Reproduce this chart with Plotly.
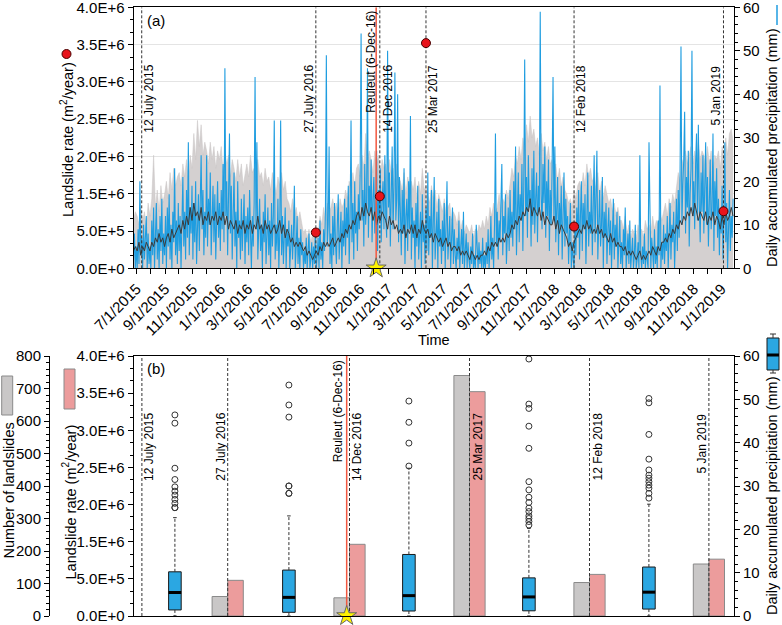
import datetime as dt
import plotly.graph_objects as go

W, H = 782, 625
FONT = "Arial, 'Liberation Sans', sans-serif"

# ---------------- data ----------------
start_date = dt.date(2015, 6, 24)
precip_step_days = 2
band_step_days = 4

# daily accumulated precipitation (mm), sampled every 2 days
prec_2015 = [2, 8, 0, 5,
             0, 9, 1, 20, 3, 7, 0, 10, 2, 6, 12, 0, 8, 1, 5,
             0, 11, 3, 14, 0, 7, 15, 2, 9, 0, 12, 4, 16, 1, 8, 3,
             12, 0, 14, 5, 17, 2, 10, 0, 13, 6, 23, 3, 11, 1, 15,
             4, 12, 0, 16, 21, 5, 13, 2, 18, 7, 29, 3, 14, 8, 19,
             2, 15, 6, 20, 1, 12, 17, 4, 14, 26, 9, 18, 3, 13, 7,
             26, 5, 16, 10, 22, 3, 14, 19, 6, 17, 2, 12, 20, 7, 15]
prec_2016 = [4, 18, 9, 24, 6, 46, 12, 20, 3, 15, 31, 8, 19, 2, 14, 22,
             5, 13, 0, 20, 7, 11, 2, 16, 4, 9, 17, 1, 12, 6,
             14, 3, 18, 8, 0, 12, 5, 15, 44, 9, 29, 2, 11, 16, 4, 10,
             0, 13, 6, 17, 1, 9, 14, 3, 11, 0, 15, 5, 12, 34, 2,
             10, 4, 16, 0, 8, 34, 3, 12, 1, 7, 14, 0, 9, 5, 11,
             0, 6, 10, 2, 8, 19, 0, 5, 12, 1, 7, 0, 9, 3, 6,
             0, 4, 1, 7, 0, 3, 8, 0, 2, 6, 0, 5, 1, 9, 0,
             3, 7, 0, 11, 2, 6, 0, 9, 4, 13, 49, 5, 10, 28, 1, 8,
             0, 12, 3, 15, 6, 1, 10, 17, 2, 8, 13, 0, 11, 5, 16,
             3, 14, 7, 19, 1, 12, 34, 6, 15, 2, 20, 8, 13, 4, 17,
             9, 22, 54, 11, 18, 5, 24, 10, 15, 46, 7, 19, 13, 25, 6,
             16, 21, 8, 14, 27, 4, 18, 11, 23, 6, 15, 20, 9, 26, 12]
prec_2017 = [7, 50, 14, 22, 5, 17, 28, 9, 19, 45, 11, 16, 40, 6, 21, 13,
             3, 18, 8, 23, 1, 12, 16, 4, 20, 9, 35, 2, 14, 7,
             11, 0, 15, 5, 19, 2, 9, 13, 0, 17, 6, 10, 1, 14, 4, 22,
             3, 12, 7, 18, 0, 10, 21, 2, 8, 13, 0, 16, 5, 9, 1,
             11, 4, 15, 0, 8, 20, 2, 7, 12, 0, 6, 14, 1, 9, 3,
             0, 7, 2, 11, 0, 5, 9, 1, 13, 0, 4, 8, 0, 6, 2,
             0, 5, 1, 8, 0, 3, 0, 10, 2, 0, 6, 1, 4, 0, 7, 0,
             3, 0, 6, 1, 9, 0, 4, 12, 2, 7, 0, 10, 31, 5, 13,
             2, 11, 6, 15, 24, 3, 12, 8, 17, 1, 10, 14, 4, 18, 7,
             13, 5, 20, 9, 28, 3, 15, 22, 6, 17, 11, 24, 4, 19, 48,
             12, 21, 7, 26, 14, 18, 5, 23, 10, 27, 8, 16, 22, 6, 19,
             13, 59, 17, 9, 24, 15, 28, 7, 20, 12, 25, 4, 18, 10, 23, 44]
prec_2018 = [11, 28, 6, 17, 21, 3, 15, 9, 19, 2, 13, 22, 5, 16, 8,
             12, 1, 9, 15, 0, 6, 2, 0, 10, 3, 14, 7, 18, 2,
             12, 20, 4, 15, 9, 17, 1, 11, 22, 5, 13, 8, 19, 3, 14, 26,
             6, 16, 27, 2, 12, 18, 5, 10, 21, 0, 13, 7, 15, 1, 9,
             14, 3, 11, 0, 8, 16, 2, 10, 5, 13, 0, 7, 12, 1, 6,
             0, 9, 3, 14, 0, 5, 8, 1, 11, 0, 4, 7, 0, 3, 10,
             0, 2, 6, 0, 26, 3, 0, 5, 1, 8, 0, 4, 2, 0, 29, 5,
             0, 7, 2, 0, 9, 1, 5, 0, 11, 3, 42, 0, 6, 2, 10,
             1, 8, 4, 12, 0, 7, 15, 2, 10, 6, 13, 0, 9, 16, 4,
             18, 7, 22, 51, 10, 19, 25, 36, 8, 21, 14, 27, 5, 17, 23, 50,
             12, 20, 9, 24, 31, 11, 33, 15, 6, 22, 13, 26, 8, 19, 29,
             10, 21, 5, 17, 25, 9, 14, 31, 4, 20, 12, 23, 7, 16, 3]
prec_2019 = [14, 8, 19, 2, 11, 29, 6, 15, 0, 10, 18, 4, 12, 7, 16]

# grey band upper limit (mm), every 4 days
band_2015 = [11, 13,
             12, 10, 14, 11, 13, 9, 15, 12,
             16, 26, 14, 18, 13, 19, 15, 17,
             20, 16, 22, 18, 23, 19, 21,
             22, 19, 24, 21, 25, 20, 26, 23,
             31, 25, 34, 28, 33, 26, 29,
             27, 24, 29, 25, 28, 23, 27]
band_2016 = [25, 28, 22, 27, 24, 26, 21, 25,
             23, 20, 25, 21, 24, 19, 22,
             24, 21, 26, 22, 23, 20, 25, 21,
             22, 19, 23, 20, 21, 18, 22,
             20, 17, 21, 19, 22, 18, 20, 16,
             15, 13, 16, 12, 14, 11, 13,
             10, 8, 9, 7, 9, 6, 8, 7,
             9, 8, 12, 10, 14, 11, 15, 13,
             14, 16, 13, 15, 12, 16, 14,
             15, 18, 16, 20, 17, 22, 19, 23,
             24, 21, 26, 23, 31, 25, 27,
             25, 22, 27, 24, 26, 21, 25, 23]
band_2017 = [24, 20, 25, 22, 23, 19, 24, 21,
             20, 18, 22, 17, 21, 19, 20,
             18, 21, 16, 20, 17, 23, 18, 19,
             17, 15, 19, 16, 18, 14, 17,
             15, 13, 16, 12, 14, 15, 11, 13,
             12, 10, 13, 9, 11, 8, 10,
             9, 8, 10, 7, 9, 8, 10, 9,
             11, 9, 12, 10, 14, 12, 15, 13,
             14, 17, 13, 16, 15, 18, 16,
             19, 23, 21, 26, 24, 28, 25, 30,
             27, 33, 29, 35, 30, 32, 28,
             30, 26, 31, 27, 29, 25, 28, 24]
band_2018 = [25, 22, 24, 20, 23, 19, 21, 18,
             17, 15, 16, 14, 18, 16, 19,
             20, 18, 22, 19, 24, 21, 23, 20,
             21, 18, 22, 17, 20, 16, 19,
             17, 15, 16, 13, 15, 12, 14, 11,
             11, 9, 12, 8, 10, 7, 9,
             8, 7, 10, 8, 9, 7, 11, 9,
             10, 8, 12, 9, 11, 10, 13, 11,
             13, 15, 12, 16, 14, 17, 15,
             19, 22, 20, 25, 23, 27, 24, 26,
             28, 24, 27, 23, 29, 25, 27,
             26, 23, 28, 24, 27, 22, 26, 25]
band_2019 = [27, 23, 28, 25, 30, 26, 31, 32, 29]

# mean precipitation line (mm), every 4 days
mean_2015 = [4, 5,
             4, 6, 3, 5, 4, 6, 5, 4,
             6, 5, 7, 6, 8, 6, 7, 5,
             7, 8, 6, 9, 7, 8, 9,
             10, 8, 11, 9, 12, 10, 14, 11,
             15, 12, 13, 11, 14, 10, 12,
             11, 13, 10, 12, 11, 13, 10]
mean_2016 = [12, 11, 13, 10, 12, 9, 11, 10,
             9, 11, 8, 10, 9, 11, 8,
             10, 9, 11, 8, 10, 9, 12, 9,
             10, 8, 11, 9, 10, 8, 9,
             10, 8, 9, 11, 8, 10, 7, 9,
             8, 6, 7, 5, 6, 5, 6,
             5, 4, 5, 3, 4, 3, 2, 3,
             4, 3, 5, 4, 6, 5, 6, 5,
             6, 7, 5, 6, 7, 6, 8,
             7, 9, 8, 10, 9, 11, 10, 12,
             13, 11, 14, 12, 15, 13, 12,
             14, 11, 13, 10, 12, 11, 13, 12]
mean_2017 = [11, 9, 12, 10, 11, 9, 10, 8,
             9, 8, 10, 7, 9, 8, 10,
             8, 10, 7, 9, 8, 11, 9, 8,
             9, 7, 8, 6, 8, 7, 6,
             7, 5, 6, 7, 5, 6, 4, 5,
             5, 4, 5, 3, 4, 3, 4,
             3, 2, 4, 3, 2, 3, 2, 3,
             3, 4, 3, 5, 4, 6, 5, 6,
             5, 7, 6, 7, 6, 8, 7,
             8, 10, 9, 11, 10, 12, 11, 13,
             12, 14, 13, 16, 12, 14, 13,
             12, 14, 11, 13, 10, 12, 11, 10]
mean_2018 = [10, 12, 9, 11, 8, 10, 9, 8,
             7, 5, 6, 4, 6, 7, 8,
             9, 8, 10, 9, 11, 9, 10, 8,
             9, 8, 10, 8, 9, 7, 8,
             7, 6, 8, 6, 7, 5, 6, 5,
             5, 4, 5, 3, 4, 3, 4,
             3, 2, 3, 4, 2, 3, 2, 3,
             4, 3, 5, 4, 3, 5, 4, 6,
             6, 7, 6, 8, 7, 9, 8,
             10, 9, 11, 10, 12, 11, 13, 12,
             14, 12, 15, 13, 11, 13, 12,
             11, 13, 10, 12, 11, 13, 10, 12]
mean_2019 = [11, 9, 12, 10, 13, 11, 12, 14, 12]

precip = prec_2015 + prec_2016 + prec_2017 + prec_2018 + prec_2019
band_upper = band_2015 + band_2016 + band_2017 + band_2018 + band_2019
band_mean = mean_2015 + mean_2016 + mean_2017 + mean_2018 + mean_2019
precip_dates = [start_date + dt.timedelta(days=precip_step_days * i) for i in range(len(precip))]
band_dates = [start_date + dt.timedelta(days=band_step_days * i) for i in range(len(band_upper))]

# events
event_dates = ["2015-07-12", "2016-07-27", "2016-12-14", "2017-03-25", "2018-02-12", "2019-01-05"]
event_labels = ["12 July 2015", "27 July 2016", "14 Dec 2016", "25 Mar 2017", "12 Feb 2018", "5 Jan 2019"]
reuleut_date = "2016-12-06"
reuleut_label = "Reuleut (6-Dec-16)"

# landslide rate (in the chart's left-axis units) and number of landslides per event
rate_dates = event_dates[1:]
landslide_rate = [0.48e6, 0.965e6, 3.02e6, 0.56e6, 0.765e6]
landslide_count = [60, 56, 740, 103, 160]

rate_tickvals = [0, 0.5e6, 1.0e6, 1.5e6, 2.0e6, 2.5e6, 3.0e6, 3.5e6]
rate_ticktext = ["0.0E+0", "5.0E+5", "1.5E+6", "2.0E+6", "2.5E+6", "3.0E+6", "3.5E+6", "4.0E+6"]
date_ticktext = ["7/1/2015", "9/1/2015", "11/1/2015", "1/1/2016", "3/1/2016", "5/1/2016",
                 "7/1/2016", "9/1/2016", "11/1/2016", "1/1/2017", "3/1/2017", "5/1/2017",
                 "7/1/2017", "9/1/2017", "11/1/2017", "1/1/2018", "3/1/2018", "5/1/2018",
                 "7/1/2018", "9/1/2018", "11/1/2018", "1/1/2019"]
date_tickvals = [dt.datetime.strptime(t, "%m/%d/%Y").date() for t in date_ticktext]

# box plots of precipitation between events (mm)
box_q1 = [1.4, 0.85, 1.15, 1.2, 1.6]
box_med = [5.4, 4.3, 4.7, 4.4, 5.5]
box_q3 = [10.2, 10.6, 14.2, 8.8, 11.3]
box_hi = [22.7, 23.1, 34.1, 20.2, 25.8]
box_lo = [0, 0, 0, 0, 0]
box_outliers = [
    [25.0, 25.0, 26.0, 26.9, 27.9, 28.8, 29.8, 31.5, 34.1, 44.5, 46.4],
    [28.3, 28.3, 30.0, 30.0, 45.9, 48.7, 53.3],
    [34.6, 39.9, 44.7, 49.6],
    [21.0, 21.8, 22.5, 23.1, 24.1, 24.9, 26.2, 27.4, 29.1, 31.0, 38.7, 43.8, 47.9, 48.9, 59.3],
    [27.2, 28.3, 29.5, 30.2, 31.0, 31.8, 32.5, 33.7, 36.2, 41.9, 49.2, 50.2],
]

# ---------------- layout geometry (pixels) ----------------
X0, X1 = 133.5, 734.0
A_TOP, A_BOT = 7.3, 268.3
B_TOP, B_BOT = 356.0, 616.0
SLOT = 60.0  # pixels per unit on panel (b) x axis
b_event_x = [0.14, 1.57, 3.6, 5.6, 7.6, 9.59]
b_reuleut_x = 3.553
box_x = [0.69, 2.59, 4.59, 6.59, 8.59]
BAR_W = 0.26
BOX_W = 0.21


def px(x):
    return x / W


def py(y):
    return 1 - y / H


BLUE = "#1f9de0"
BOXBLUE = "#2ba7e2"
GREY_BAND = "#d4d0d0"
RED = "#e8141c"
REDLINE = "#f2573f"
DASH = "3px,2px"

fig = go.Figure()

# ---- panel (a) ----
fig.add_trace(go.Scatter(x=band_dates, y=band_upper, mode="lines", fill="tozeroy",
                         fillcolor=GREY_BAND, line=dict(width=0.5, color="#c8c4c4"),
                         xaxis="x", yaxis="y", showlegend=False, hoverinfo="skip"))
fig.add_trace(go.Scatter(x=precip_dates, y=precip, mode="lines",
                         line=dict(width=1.1, color=BLUE),
                         xaxis="x", yaxis="y", showlegend=False))
fig.add_trace(go.Scatter(x=band_dates, y=band_mean, mode="lines",
                         line=dict(width=1, color="#3a3a3a"),
                         xaxis="x", yaxis="y", showlegend=False))

lx, ly = [], []
for d in event_dates:
    lx += [d, d, None]
    ly += [0, 3.5e6, None]
fig.add_trace(go.Scatter(x=lx, y=ly, mode="lines", line=dict(width=1, color="#333", dash=DASH),
                         xaxis="x", yaxis="y2", showlegend=False, hoverinfo="skip"))
fig.add_trace(go.Scatter(x=[reuleut_date, reuleut_date], y=[0, 3.5e6], mode="lines",
                         line=dict(width=1.5, color=REDLINE), xaxis="x", yaxis="y2",
                         showlegend=False, hoverinfo="skip"))
fig.add_trace(go.Scatter(x=rate_dates, y=landslide_rate, mode="markers",
                         marker=dict(symbol="circle", size=9, color=RED,
                                     line=dict(width=1, color="#4a0000")),
                         xaxis="x", yaxis="y2", showlegend=False))
fig.add_trace(go.Scatter(x=[reuleut_date], y=[0], mode="markers", cliponaxis=False,
                         marker=dict(symbol="star", size=15, color="#fff200",
                                     line=dict(width=1, color="#666")),
                         xaxis="x", yaxis="y2", showlegend=False))

# ---- panel (b) ----
fig.add_trace(go.Bar(x=box_x, y=[h - l for h, l in zip(box_q3, box_q1)], base=box_q1,
                     width=BOX_W, marker=dict(color=BOXBLUE, line=dict(color="#1a1a1a", width=1)),
                     xaxis="x2", yaxis="y3", showlegend=False))
mx, my, wx, wy, cx, cy = [], [], [], [], [], []
for c, m, q1, q3, hi, lo in zip(box_x, box_med, box_q1, box_q3, box_hi, box_lo):
    mx += [c - BOX_W / 2, c + BOX_W / 2, None]
    my += [m, m, None]
    wx += [c, c, None, c, c, None]
    wy += [q3, hi, None, q1, lo, None]
    cx += [c - 0.03, c + 0.03, None, c - 0.03, c + 0.03, None]
    cy += [hi, hi, None, lo, lo, None]
fig.add_trace(go.Scatter(x=wx, y=wy, mode="lines", line=dict(width=1, color="#333", dash=DASH),
                         xaxis="x2", yaxis="y3", showlegend=False, hoverinfo="skip"))
fig.add_trace(go.Scatter(x=cx, y=cy, mode="lines", line=dict(width=1, color="#333"),
                         xaxis="x2", yaxis="y3", showlegend=False, hoverinfo="skip", cliponaxis=False))
fig.add_trace(go.Scatter(x=mx, y=my, mode="lines", line=dict(width=3, color="#000"),
                         xaxis="x2", yaxis="y3", showlegend=False, hoverinfo="skip"))
ox, oy = [], []
for c, outs in zip(box_x, box_outliers):
    ox += [c] * len(outs)
    oy += outs
fig.add_trace(go.Scatter(x=ox, y=oy, mode="markers", cliponaxis=False,
                         marker=dict(symbol="circle-open", size=6, color="#333", line=dict(width=1)),
                         xaxis="x2", yaxis="y3", showlegend=False))

fig.add_trace(go.Bar(x=[b - BAR_W / 2 for b in b_event_x[1:]], y=landslide_count, width=BAR_W,
                     marker=dict(color="#c9c7c7", line=dict(color="#8a8a8a", width=1)),
                     xaxis="x2", yaxis="y4", showlegend=False))
fig.add_trace(go.Bar(x=[b + BAR_W / 2 for b in b_event_x[1:]], y=landslide_rate, width=BAR_W,
                     marker=dict(color="#ec9c9c", line=dict(color="#8a8a8a", width=1)),
                     xaxis="x2", yaxis="y5", showlegend=False))
lx, ly = [], []
for b in b_event_x:
    lx += [b, b, None]
    ly += [0, 3.5e6, None]
fig.add_trace(go.Scatter(x=lx, y=ly, mode="lines", line=dict(width=1, color="#333", dash=DASH),
                         xaxis="x2", yaxis="y5", showlegend=False, hoverinfo="skip"))
fig.add_trace(go.Scatter(x=[b_reuleut_x, b_reuleut_x], y=[0, 3.5e6], mode="lines",
                         line=dict(width=1.5, color=REDLINE), xaxis="x2", yaxis="y5",
                         showlegend=False, hoverinfo="skip"))
fig.add_trace(go.Scatter(x=[b_reuleut_x], y=[0], mode="markers", cliponaxis=False,
                         marker=dict(symbol="star", size=15, color="#fff200",
                                     line=dict(width=1, color="#666")),
                         xaxis="x2", yaxis="y5", showlegend=False))

# ---- axes ----
tickfont = dict(family=FONT, size=15, color="black")
common = dict(showline=True, linecolor="black", linewidth=1, ticks="outside", ticklen=5,
              tickwidth=1, tickcolor="black", tickfont=tickfont, zeroline=False,
              automargin=False, ticklabeloverflow="allow")
xdom = [px(X0), px(X1)]
ydom_a = [py(A_BOT), py(A_TOP)]
ydom_b = [py(B_BOT), py(B_TOP)]

layout_axes = dict(
    xaxis=dict(domain=xdom, anchor="y", type="date", range=["2015-06-24", "2019-01-28"],
               tickvals=date_tickvals, ticktext=date_ticktext, tickangle=-45, mirror=True,
               showgrid=False,
               minor=dict(dtick="M1", tick0="2015-07-01", ticks="outside", ticklen=5,
                          tickcolor="black", showgrid=False), **common),
    yaxis=dict(domain=ydom_a, anchor="x", side="right", range=[0, 60], dtick=10,
               showgrid=False,
               minor=dict(dtick=2, ticks="outside", ticklen=3, tickcolor="black", showgrid=False),
               **common),
    yaxis2=dict(overlaying="y", anchor="x", side="left", range=[0, 3.5e6],
                tickvals=rate_tickvals, ticktext=rate_ticktext, showgrid=True,
                gridcolor="#e4e4e4", gridwidth=1,
                minor=dict(dtick=0.5e6 / 3, tick0=0, ticks="outside", ticklen=3,
                           tickcolor="black", showgrid=False), **common),
    xaxis2=dict(domain=xdom, anchor="y3", range=[0, (X1 - X0) / SLOT], showline=True,
                linecolor="black", linewidth=1, mirror=True, ticks="", showticklabels=False,
                showgrid=False, zeroline=False, automargin=False),
    yaxis3=dict(domain=ydom_b, anchor="x2", side="right", range=[0, 60], dtick=10,
                showgrid=False,
                minor=dict(dtick=2, ticks="outside", ticklen=3, tickcolor="black", showgrid=False),
                **common),
    yaxis4=dict(overlaying="y3", anchor="free", position=px(49), side="left", range=[0, 800],
                dtick=100, showgrid=False,
                minor=dict(dtick=20, ticks="outside", ticklen=3, tickcolor="black", showgrid=False),
                **common),
    yaxis5=dict(overlaying="y3", anchor="x2", side="left", range=[0, 3.5e6],
                tickvals=rate_tickvals, ticktext=rate_ticktext, showgrid=False,
                minor=dict(dtick=0.5e6 / 3, tick0=0, ticks="outside", ticklen=3,
                           tickcolor="black", showgrid=False), **common),
)

# ---- annotations ----
ann = []


def txt(x, y, text, size=14.5, angle=0, xref="paper", xshift=0):
    ann.append(dict(x=x, y=y, xref=xref, yref="paper", text=text, showarrow=False,
                    textangle=angle, xanchor="center", yanchor="middle", xshift=xshift,
                    font=dict(family=FONT, size=size, color="black")))


title_rate = "Landslide rate (m<sup>2</sup>/year)"
title_prec = "Daily accumulated precipitation (mm)"
txt(px(67), py(140), title_rate, angle=-90)
txt(px(772), py(148), title_prec, angle=-90)
txt(px(69.5), py(502), title_rate, angle=-90)
txt(px(772), py(496), title_prec, angle=-90)
txt(px(8.5), py(491), "Number of landslides", angle=-90)
txt(px(434), py(340), "Time", size=14.5)
txt(px(155.5), py(21), "(a)", size=15)
txt(px(155.5), py(368.5), "(b)", size=15)

# event labels, panel (a)
a_shift = [7, -7, 8, 7, 7, -7]
a_yc = [99, 99, 99, 99, 99, 95]
for d, lab, s, yc in zip(event_dates, event_labels, a_shift, a_yc):
    txt(d, py(yc), lab, size=12, angle=-90, xref="x", xshift=s)
txt(reuleut_date, py(61.5), reuleut_label, size=12, angle=-90, xref="x", xshift=-6)
# event labels, panel (b)
b_shift = [7, -7, 7.5, 8, 8, -6.5]
b_yc = [447, 447, 447, 447, 447, 443]
for b, lab, s, yc in zip(b_event_x, event_labels, b_shift, b_yc):
    txt(b, py(yc), lab, size=12, angle=-90, xref="x2", xshift=s)
txt(b_reuleut_x, py(411), reuleut_label, size=12, angle=-90, xref="x2", xshift=-8.5)

# ---- legend icons (shapes in paper coords) ----
shapes = []


def rect(x0, y0, x1, y1, fill, line="#777", lw=1):
    shapes.append(dict(type="rect", xref="paper", yref="paper", x0=px(x0), x1=px(x1),
                       y0=py(y1), y1=py(y0), fillcolor=fill, line=dict(color=line, width=lw)))


def seg(x0, y0, x1, y1, color, lw=1):
    shapes.append(dict(type="line", xref="paper", yref="paper", x0=px(x0), x1=px(x1),
                       y0=py(y0), y1=py(y1), line=dict(color=color, width=lw)))


shapes.append(dict(type="circle", xref="paper", yref="paper", x0=px(62), x1=px(71),
                   y0=py(58.5), y1=py(49.5), fillcolor=RED, line=dict(color="#4a0000", width=1)))
seg(777, 5, 777, 25, BLUE, 1.5)
rect(1.7, 376, 12.7, 415, "#c9c7c7", "#8a8a8a")
rect(64, 369, 75, 409, "#ec9c9c", "#8a8a8a")
rect(767, 338, 779, 370, BOXBLUE, "#1a1a1a")
seg(767, 355, 779, 355, "#000", 3)
seg(773, 334, 773, 338, "#333")
seg(770, 334, 776, 334, "#333")
seg(773, 370, 773, 373, "#333")
seg(770, 373, 776, 373, "#333")

fig.update_layout(
    width=W, height=H, autosize=False,
    margin=dict(l=0, r=0, t=0, b=0, autoexpand=False),
    paper_bgcolor="white", plot_bgcolor="white",
    barmode="overlay", showlegend=False,
    font=dict(family=FONT, size=15, color="black"),
    annotations=ann, shapes=shapes,
    **layout_axes,
)

fig.write_html("out.html", config={"displayModeBar": False},
               post_script="document.body.style.margin='0px';")
